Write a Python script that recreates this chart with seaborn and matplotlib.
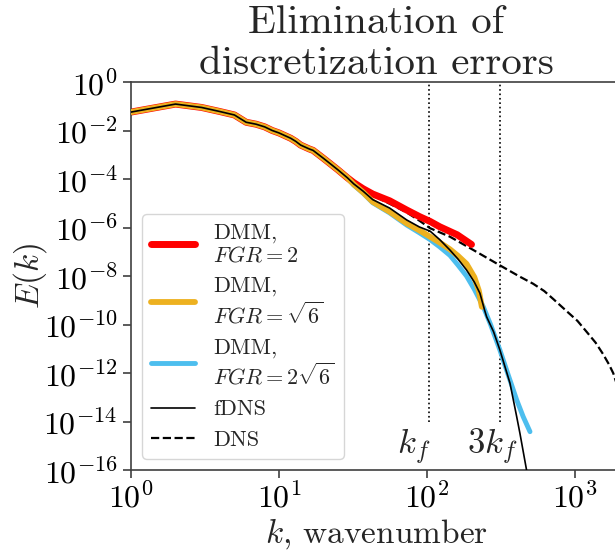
import numpy as np
import pandas as pd
import matplotlib
matplotlib.use("Agg")
import matplotlib.pyplot as plt
from matplotlib.ticker import FixedLocator, NullLocator
import seaborn as sns

# Energy spectra, E(k) stored as log10 values
k_fdns = [1, 2, 3, 4, 5, 6, 7, 8, 9, 10, 12, 13, 14, 16, 17, 20, 22, 25, 29, 32,
          37, 43, 56, 73, 89, 105, 122, 143, 162, 185, 209, 228, 245, 253, 282,
          311, 364, 404, 425, 471, 490]
log_e_fdns = [-1.24, -0.91, -1.05, -1.22, -1.36, -1.66, -1.74, -1.85, -2.0, -2.1,
              -2.32, -2.45, -2.6, -2.76, -2.82, -3.15, -3.35, -3.62, -3.95, -4.2,
              -4.5, -4.85, -5.2, -5.69, -5.98, -6.15, -6.5, -6.93, -7.3, -7.75,
              -8.25, -8.71, -9.4, -9.68, -10.3, -11.05, -12.42, -13.8, -14.49,
              -16.0, -16.6]

k_low = k_fdns[:19]
log_e_low = log_e_fdns[:19]

k_dmm2 = k_low + [32, 37, 43, 56, 73, 89, 105, 122, 160, 200]
log_e_dmm2 = log_e_low + [-4.15, -4.4, -4.62, -4.9, -5.28, -5.55, -5.75, -5.97,
                          -6.3, -6.7]

k_dmm_s6 = k_low + [32, 37, 43, 56, 73, 89, 105, 122, 143, 162, 185, 209, 224, 235]
log_e_dmm_s6 = log_e_low + [-4.22, -4.55, -4.94, -5.35, -5.83, -6.12, -6.38, -6.62,
                            -6.9, -7.17, -7.5, -8.05, -8.6, -9.27]

k_dmm_2s6 = k_low + [32, 37, 43, 56, 73, 89, 105, 122, 143, 162, 185, 209, 240,
                     269, 311, 355, 404, 447, 497]
log_e_dmm_2s6 = log_e_low + [-4.25, -4.58, -4.98, -5.4, -5.9, -6.22, -6.5, -6.8,
                             -7.15, -7.55, -8.0, -8.55, -9.26, -10.0, -11.05,
                             -12.1, -13.11, -13.8, -14.42]

k_dns = k_low + [32, 37, 43, 56, 73, 89, 105, 143, 206, 309, 425, 522, 620, 714,
                 879, 1040, 1199, 1380, 1549, 1700, 1816, 2048]
log_e_dns = log_e_low + [-4.17, -4.43, -4.68, -5.02, -5.38, -5.72, -6.03, -6.38,
                         -6.93, -7.55, -8.03, -8.32, -8.62, -8.95, -9.45, -9.85,
                         -10.3, -10.75, -11.22, -11.65, -12.01, -13.0]

k_filter = 104
filter_labels = [r"$k_f$", r"$3k_f$"]
filter_positions = [k_filter, 3 * k_filter]
filter_label_x = [82, 277]

sns.set_style("ticks")
plt.rcParams.update({
    "font.family": ["cmr10", "DejaVu Serif"],
    "mathtext.fontset": "cm",
    "axes.unicode_minus": False,
    "axes.formatter.use_mathtext": True,
})

fig = plt.figure(figsize=(6.15, 5.52), dpi=100)
ax = fig.add_axes([131 / 615, 1 - 470 / 552, 490 / 615, 388 / 552])


def spectrum(k, log_e):
    return pd.DataFrame({"k": k, "E": 10.0 ** np.asarray(log_e)})


series = [
    (k_dmm2, log_e_dmm2, "DMM,\n$FGR = 2$", "#ff0000", 5.0, "-", 2),
    (k_dmm_s6, log_e_dmm_s6, "DMM,\n$FGR = \\sqrt{6}$", "#edb120", 4.2, "-", 3),
    (k_dmm_2s6, log_e_dmm_2s6, "DMM,\n$FGR = 2\\sqrt{6}$", "#4dbeee", 3.5, "-", 1),
    (k_fdns, log_e_fdns, "fDNS", "black", 1.2, "-", 5),
    (k_dns, log_e_dns, "DNS", "black", 1.6, "--", 1.5),
]

for k, log_e, label, color, lw, ls, z in series:
    sns.lineplot(data=spectrum(k, log_e), x="k", y="E", ax=ax, color=color,
                 linewidth=lw, linestyle=ls, label=label, zorder=z,
                 estimator=None, sort=False)

ax.set_xscale("log")
ax.set_yscale("log")
ax.set_xlim(1, 2048)
ax.set_ylim(1e-16, 1)

for xv in filter_positions:
    ax.plot([xv, xv], [1e-14, 1], color="black", linestyle=":", linewidth=1.2,
            zorder=0.5)
for xt, txt in zip(filter_label_x, filter_labels):
    ax.text(xt, 10 ** -15.05, txt, ha="center", va="center", fontsize=25)

ax.xaxis.set_major_locator(FixedLocator([1, 10, 100, 1000]))
ax.yaxis.set_major_locator(FixedLocator([10.0 ** p for p in range(-16, 1, 2)]))
ax.xaxis.set_minor_locator(NullLocator())
ax.yaxis.set_minor_locator(NullLocator())
ax.tick_params(labelsize=23, length=6, width=1.2, colors="0.25", labelcolor="black")
ax.tick_params(axis="x", pad=2.5)
for side in ["left", "bottom", "top"]:
    ax.spines[side].set_color("0.25")
    ax.spines[side].set_linewidth(1.2)
ax.spines["right"].set_visible(False)

ax.set_xlabel(r"$k$, wavenumber", fontsize=24)
ax.set_ylabel(r"$E(k)$", fontsize=24)
ax.xaxis.set_label_coords(245 / 490, -46 / 388)
ax.yaxis.set_label_coords(-82 / 490, 0.5)
ax.set_title("Elimination of\ndiscretization errors", fontsize=29.5, pad=5)

ax.legend(loc="lower left", fontsize=16, framealpha=0.8)

fig.savefig("out.png", dpi=100)
